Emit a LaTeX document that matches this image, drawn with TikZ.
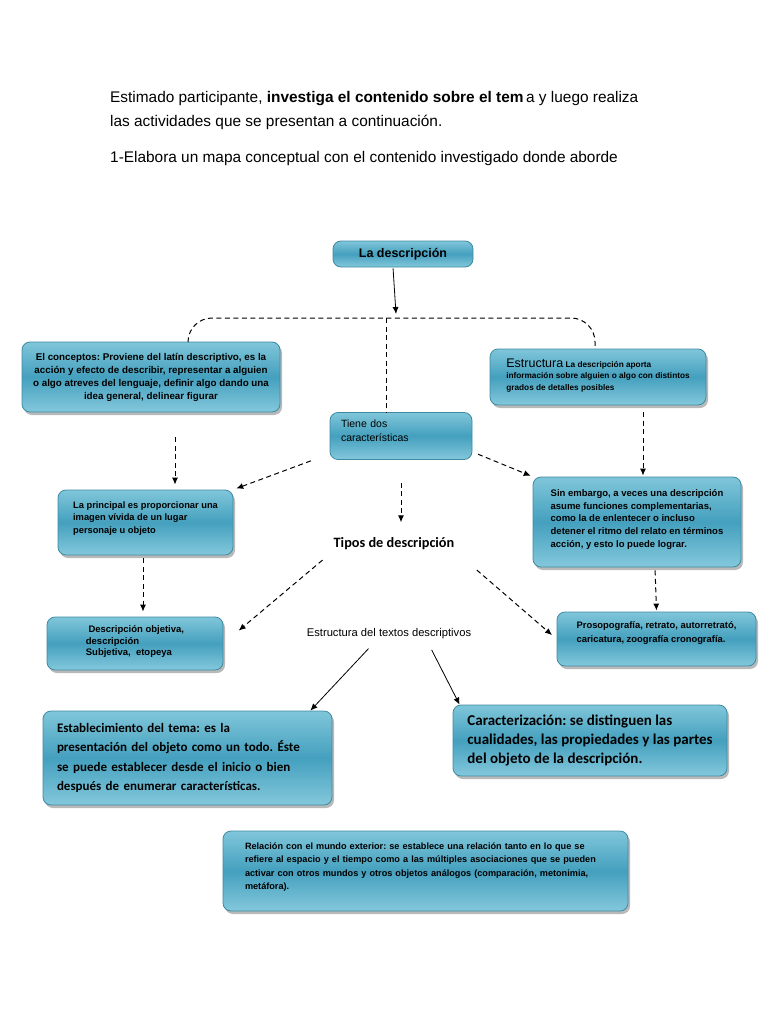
\documentclass[tikz,border=0pt]{standalone}
\usepackage{fontspec}
\setmainfont{Liberation Sans}
\newfontfamily\calibri{Carlito}
\usetikzlibrary{shadows,arrows.meta}
\definecolor{cajaarriba}{RGB}{128,198,218}
\definecolor{cajamedio}{RGB}{68,160,190}
\definecolor{cajaabajo}{RGB}{132,200,220}
\definecolor{cajaborde}{RGB}{62,138,162}
\newcommand{\hondo}[1]{\rule[-#1pt]{0pt}{0pt}}
\begin{document}
\frenchspacing
\begin{tikzpicture}[x=1pt,y=-1pt]
    \tikzset{caja/.style={draw=cajaborde,line width=0.8pt,rounded corners=8pt,
        top color=cajaarriba,bottom color=cajaabajo,middle color=cajamedio,
        inner sep=2pt,align=left,text=black},
      sombra/.style={caja,drop shadow={shadow xshift=2pt,shadow yshift=-3pt,fill=black!55}},
      chica/.style={font=\bfseries\fontsize{9.3}{12.8}\selectfont},
      guion/.style={line width=1pt,dash pattern=on 5pt off 3.5pt},
      flechag/.style={guion,-{Latex[length=7pt,width=6pt]}},
      flecha/.style={line width=0.8pt,-{Latex[length=7pt,width=6pt]}}};
    \useasboundingbox (0,0) rectangle (768,1024);
    % encabezado
    \node[anchor=base west,inner sep=0pt,font=\fontsize{15.4}{17}\selectfont] (intro) at (110,102.7)
        {Estimado participante, \textbf{investiga el contenido sobre el tem}\,a y luego realiza};
    \node[anchor=base west,inner sep=0pt,font=\fontsize{15.4}{17}\selectfont] (intro2) at (110,126.7)
        {las actividades que se presentan a continuación.};
    \node[anchor=base west,inner sep=0pt,font=\fontsize{15.4}{17}\selectfont] (paso) at (110,163)
        {1-Elabora un mapa conceptual con el contenido investigado donde aborde};
    % cajas
    \node[caja,minimum width=140pt,minimum height=26pt,font=\bfseries\fontsize{12.5}{13}\selectfont] (desc) at (403,254) {La descripción};
    \node[sombra,font=\bfseries\fontsize{9.8}{13}\selectfont,align=center,minimum width=258pt,minimum height=70pt] (concepto) at (151,377)
        {El conceptos: Proviene del latín descriptivo, es la\\acción y efecto de describir, representar a alguien\\o algo atreves del lenguaje, definir algo dando una\\idea general, delinear figurar};
    \node[sombra,font=\bfseries\fontsize{8.25}{11.5}\selectfont,minimum width=216pt,minimum height=56pt] (estructura) at (598,377)
        {{\mdseries\fontsize{12.5}{11}\selectfont Estructura} La descripción aporta\\información sobre alguien o algo con distintos\\grados de detalles posibles\hondo{5}};
    \node[caja,font=\fontsize{10.5}{13.5}\selectfont,text width=120pt,inner xsep=11pt,minimum height=47pt] (tiene) at (401,436)
        {Tiene dos\\características\hondo{11}};
    \node[sombra,chica,minimum width=175pt,minimum height=65pt] (principal) at (145.5,522.5)
        {La principal es proporcionar una\\imagen vívida de un lugar\\personaje u objeto\hondo{10}};
    \node[sombra,font=\bfseries\fontsize{9.5}{12.9}\selectfont,minimum width=208pt,minimum height=90pt] (sinemb) at (637,522)
        {Sin embargo, a veces una descripción\\asume funciones complementarias,\\como la de enlentecer o incluso\\detener el ritmo del relato en términos\\acción, y esto lo puede lograr.\hondo{7}};
    \node[font=\calibri\bfseries\fontsize{14.3}{15}\selectfont] (tipos) at (394,544) {Tipos de descripción};
    \node[sombra,font=\bfseries\fontsize{9.5}{11.5}\selectfont,minimum width=176pt,minimum height=53pt] (objetiva) at (135,643.5)
        {\ Descripción objetiva,\\descripción\\Subjetiva,\ \ etopeya\hondo{5}};
    \node[sombra,font=\bfseries\fontsize{9.4}{14.5}\selectfont,minimum width=199pt,minimum height=54pt] (proso) at (656.5,639)
        {Prosopografía, retrato, autorretrató,\\caricatura, zoografía cronografía.\hondo{14}};
    \node[font=\fontsize{11.2}{12}\selectfont] (estruct) at (389,634) {Estructura del textos descriptivos};
    \node[sombra,font=\calibri\bfseries\fontsize{13}{19.5}\selectfont,text width=261pt,inner xsep=14pt,minimum height=94pt] (establ) at (187.5,758)
        {Establecimiento del tema: es la\\presentación del objeto como un todo. Éste\\se puede establecer desde el inicio o bien\\después de enumerar características.};
    \node[sombra,font=\calibri\bfseries\fontsize{15}{19}\selectfont,minimum width=274pt,minimum height=71pt] (caract) at (590,740.5)
        {Caracterización: se distinguen las\\cualidades, las propiedades y las partes\\del objeto de la descripción.};
    \node[sombra,font=\bfseries\fontsize{9.15}{13.4}\selectfont,text width=361pt,inner xsep=22pt,minimum height=80pt] (relacion) at (425.5,871)
        {Relación con el mundo exterior: se establece una relación tanto en lo que se\\refiere al espacio y el tiempo como a las múltiples asociaciones que se pueden\\activar con otros mundos y otros objetos análogos (comparación, metonimia,\\metáfora).\hondo{10}};
    % conectores
    \coordinate (cruce) at (386,318);
    \draw[flecha,shorten <=1pt] ([xshift=-10pt]desc.south) -- ([xshift=10pt,yshift=4pt]cruce);
    \draw[guion,rounded corners=24pt] ([xshift=37pt]concepto.north) |- (cruce) -| ([xshift=-3pt]estructura.north);
    \draw[guion] (cruce) -- (cruce |- tiene.north);
    \draw[flechag,shorten <=25pt,shorten >=5pt] ([xshift=24pt]concepto.south) -- ([xshift=29.5pt]principal.north);
    \draw[flechag,shorten <=20pt,shorten >=3pt] ([yshift=6pt]tiene.south west) -- (principal.north east);
    \draw[flechag,shorten <=6pt,shorten >=2pt] ([yshift=8pt]tiene.south east) -- (sinemb.north west);
    \draw[flechag,shorten <=7pt,shorten >=1pt] ([xshift=45pt]estructura.south) -- ([xshift=6pt]sinemb.north);
    \draw[flechag,shorten <=23pt,shorten >=12pt] (tiene.south) -- (tiene.south |- tipos.north);
    \draw[flechag,shorten <=3pt,shorten >=5pt] ([xshift=-2.5pt]principal.south) -- ([xshift=8pt]objetiva.north);
    \draw[flechag,shorten <=10pt,shorten >=20pt] (tipos.south west) -- (objetiva.east);
    \draw[flechag,shorten <=25pt,shorten >=6pt] (tipos.south east) -- (proso.west);
    \draw[flechag,shorten <=3pt,shorten >=1pt] ([xshift=18pt]sinemb.south) -- (proso.north);
    \draw[flecha,shorten <=8pt] ([xshift=-15pt]estruct.south) -- ([xshift=-22pt]establ.north east);
    \draw[flecha,shorten <=8pt] ([xshift=39pt]estruct.south) -- ([xshift=7pt]caract.north west);
\end{tikzpicture}
\end{document}
